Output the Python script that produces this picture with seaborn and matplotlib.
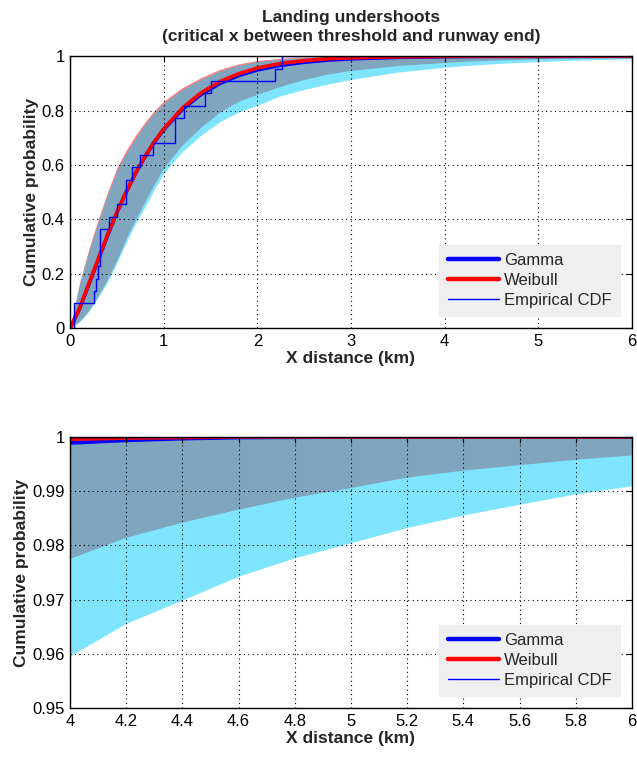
import numpy as np
import pandas as pd
import matplotlib
matplotlib.use("Agg")
import matplotlib.pyplot as plt
from matplotlib.ticker import FuncFormatter, MultipleLocator
from matplotlib.lines import Line2D
import seaborn as sns

# ---------------- data ----------------
x_grid = [0, 0.1, 0.2, 0.3, 0.4, 0.5, 0.6, 0.7, 0.8, 0.9, 1.0, 1.2, 1.4, 1.6, 1.8,
          2.0, 2.25, 2.5, 2.75, 3.0, 3.5, 4.0, 4.2, 4.4, 4.6, 4.8, 5.0, 5.2, 5.4,
          5.6, 5.8, 6.0]

gamma_cdf = [0, 0.07, 0.16, 0.25, 0.34, 0.425, 0.50, 0.57, 0.63, 0.684, 0.73, 0.805,
             0.86, 0.90, 0.929, 0.95, 0.967, 0.978, 0.986, 0.991, 0.9962, 0.9989,
             0.99938, 0.9997, 0.9999, 0.99995, 1.0, 1.0, 1.0, 1.0, 1.0, 1.0]

weibull_cdf = [0, 0.072, 0.162, 0.254, 0.343, 0.426, 0.502, 0.571, 0.632, 0.686, 0.733,
               0.810, 0.866, 0.907, 0.936, 0.957, 0.974, 0.984, 0.991, 0.9945, 0.9982,
               0.9996, 0.9998, 0.9999, 1.0, 1.0, 1.0, 1.0, 1.0, 1.0, 1.0, 1.0]

weibull_lo = [0, 0.025, 0.065, 0.12, 0.18, 0.25, 0.33, 0.40, 0.465, 0.53, 0.59, 0.675,
              0.74, 0.795, 0.835, 0.86, 0.89, 0.915, 0.935, 0.948, 0.966, 0.9775,
              0.9814, 0.9842, 0.9866, 0.9888, 0.9906, 0.9925, 0.9938, 0.9948, 0.9958,
              0.9966]
weibull_hi = [0, 0.165, 0.29, 0.40, 0.50, 0.59, 0.655, 0.71, 0.758, 0.80, 0.835, 0.885,
              0.922, 0.952, 0.972, 0.985, 0.993, 0.997, 0.999, 0.9995, 1.0, 1.0, 1.0,
              1.0, 1.0, 1.0, 1.0, 1.0, 1.0, 1.0, 1.0, 1.0]

gamma_lo = [0, 0.022, 0.06, 0.112, 0.17, 0.24, 0.315, 0.385, 0.445, 0.51, 0.57, 0.65,
            0.71, 0.76, 0.795, 0.82, 0.855, 0.878, 0.898, 0.915, 0.942, 0.9595, 0.9655,
            0.9698, 0.9742, 0.9776, 0.9804, 0.9832, 0.9855, 0.9875, 0.9894, 0.9909]
gamma_hi = [0, 0.16, 0.28, 0.39, 0.49, 0.58, 0.645, 0.70, 0.75, 0.792, 0.828, 0.878,
            0.916, 0.946, 0.967, 0.981, 0.990, 0.995, 0.998, 0.999, 0.9998, 1.0, 1.0,
            1.0, 1.0, 1.0, 1.0, 1.0, 1.0, 1.0, 1.0, 1.0]

ecdf_x = [0, 0.04, 0.26, 0.28, 0.30, 0.32, 0.42, 0.50, 0.60, 0.66, 0.745, 0.887, 1.117,
          1.213, 1.436, 1.507, 2.19, 2.26, 6.0]
ecdf_y = [0, 0.0909, 0.136, 0.182, 0.227, 0.364, 0.409, 0.455, 0.545, 0.591, 0.636,
          0.682, 0.773, 0.818, 0.864, 0.909, 0.955, 1.0, 1.0]

legend_labels = ["Gamma", "Weibull", "Empirical CDF"]
title_text = "Landing undershoots\n(critical x between threshold and runway end)"
xlabel_text = "X distance (km)"
ylabel_text = "Cumulative probability"

# ---------------- style ----------------
sns.set_style("white")
plt.rcParams["font.family"] = ["Liberation Sans", "DejaVu Sans"]

fig = plt.figure(figsize=(6.37, 7.61), dpi=100)
ax_top = fig.add_axes([0.110, 0.569, 0.882, 0.357])
ax_bot = fig.add_axes([0.110, 0.0697, 0.882, 0.356])

RED = (1.0, 0.0, 0.0)
CYAN = (0.0, 0.8, 1.0)

fmt = FuncFormatter(lambda v, p: f"{v:g}")


def draw(ax, xlim, ylim, xstep, ystep):
    ax.fill_between(x_grid, weibull_lo, weibull_hi, color=RED, alpha=0.5, lw=0)
    ax.fill_between(x_grid, gamma_lo, gamma_hi, color=CYAN, alpha=0.5, lw=0)
    sns.lineplot(x=x_grid, y=gamma_cdf, ax=ax, color="blue", lw=2.6,
                 estimator=None, sort=False, legend=False)
    sns.lineplot(x=x_grid, y=weibull_cdf, ax=ax, color="red", lw=2.6,
                 estimator=None, sort=False, legend=False)
    sns.lineplot(x=ecdf_x, y=ecdf_y, ax=ax, color="blue", lw=1.0,
                 estimator=None, sort=False, legend=False, drawstyle="steps-post")
    ax.set_xlim(*xlim)
    ax.set_ylim(*ylim)
    ax.xaxis.set_major_locator(MultipleLocator(xstep))
    ax.yaxis.set_major_locator(MultipleLocator(ystep))
    ax.xaxis.set_major_formatter(fmt)
    ax.yaxis.set_major_formatter(fmt)
    ax.grid(True, color="black", linestyle=(0, (1, 3)), lw=0.8)
    ax.set_axisbelow(False)
    for s in ax.spines.values():
        s.set_visible(True)
        s.set_color("black")
        s.set_linewidth(1.0)
    ax.tick_params(direction="in", length=4, width=0.8, top=True, right=True,
                   labelsize=12, colors="black", pad=4)
    ax.set_xlabel(xlabel_text, fontsize=12.5, fontweight="bold", labelpad=2)
    ax.set_ylabel(ylabel_text, fontsize=12.5, fontweight="bold", labelpad=2)
    handles = [Line2D([], [], color="blue", lw=3.2),
               Line2D([], [], color="red", lw=3.2),
               Line2D([], [], color="blue", lw=1.0)]
    leg = ax.legend(handles, legend_labels, loc="lower right", fontsize=12,
                    frameon=True, fancybox=False, handlelength=3.1,
                    borderaxespad=0.7, borderpad=0.5, labelspacing=0.3,
                    handletextpad=0.3)
    leg.get_frame().set_facecolor("#EFEFEF")
    leg.get_frame().set_edgecolor("#EFEFEF")
    leg.get_frame().set_alpha(1.0)


draw(ax_top, (0, 6), (0, 1), 1, 0.2)
draw(ax_bot, (4, 6), (0.95, 1), 0.2, 0.01)

ax_top.set_title(title_text, fontsize=12.5, fontweight="bold", pad=11,
                 linespacing=1.3)

fig.savefig("out.png", dpi=100)
